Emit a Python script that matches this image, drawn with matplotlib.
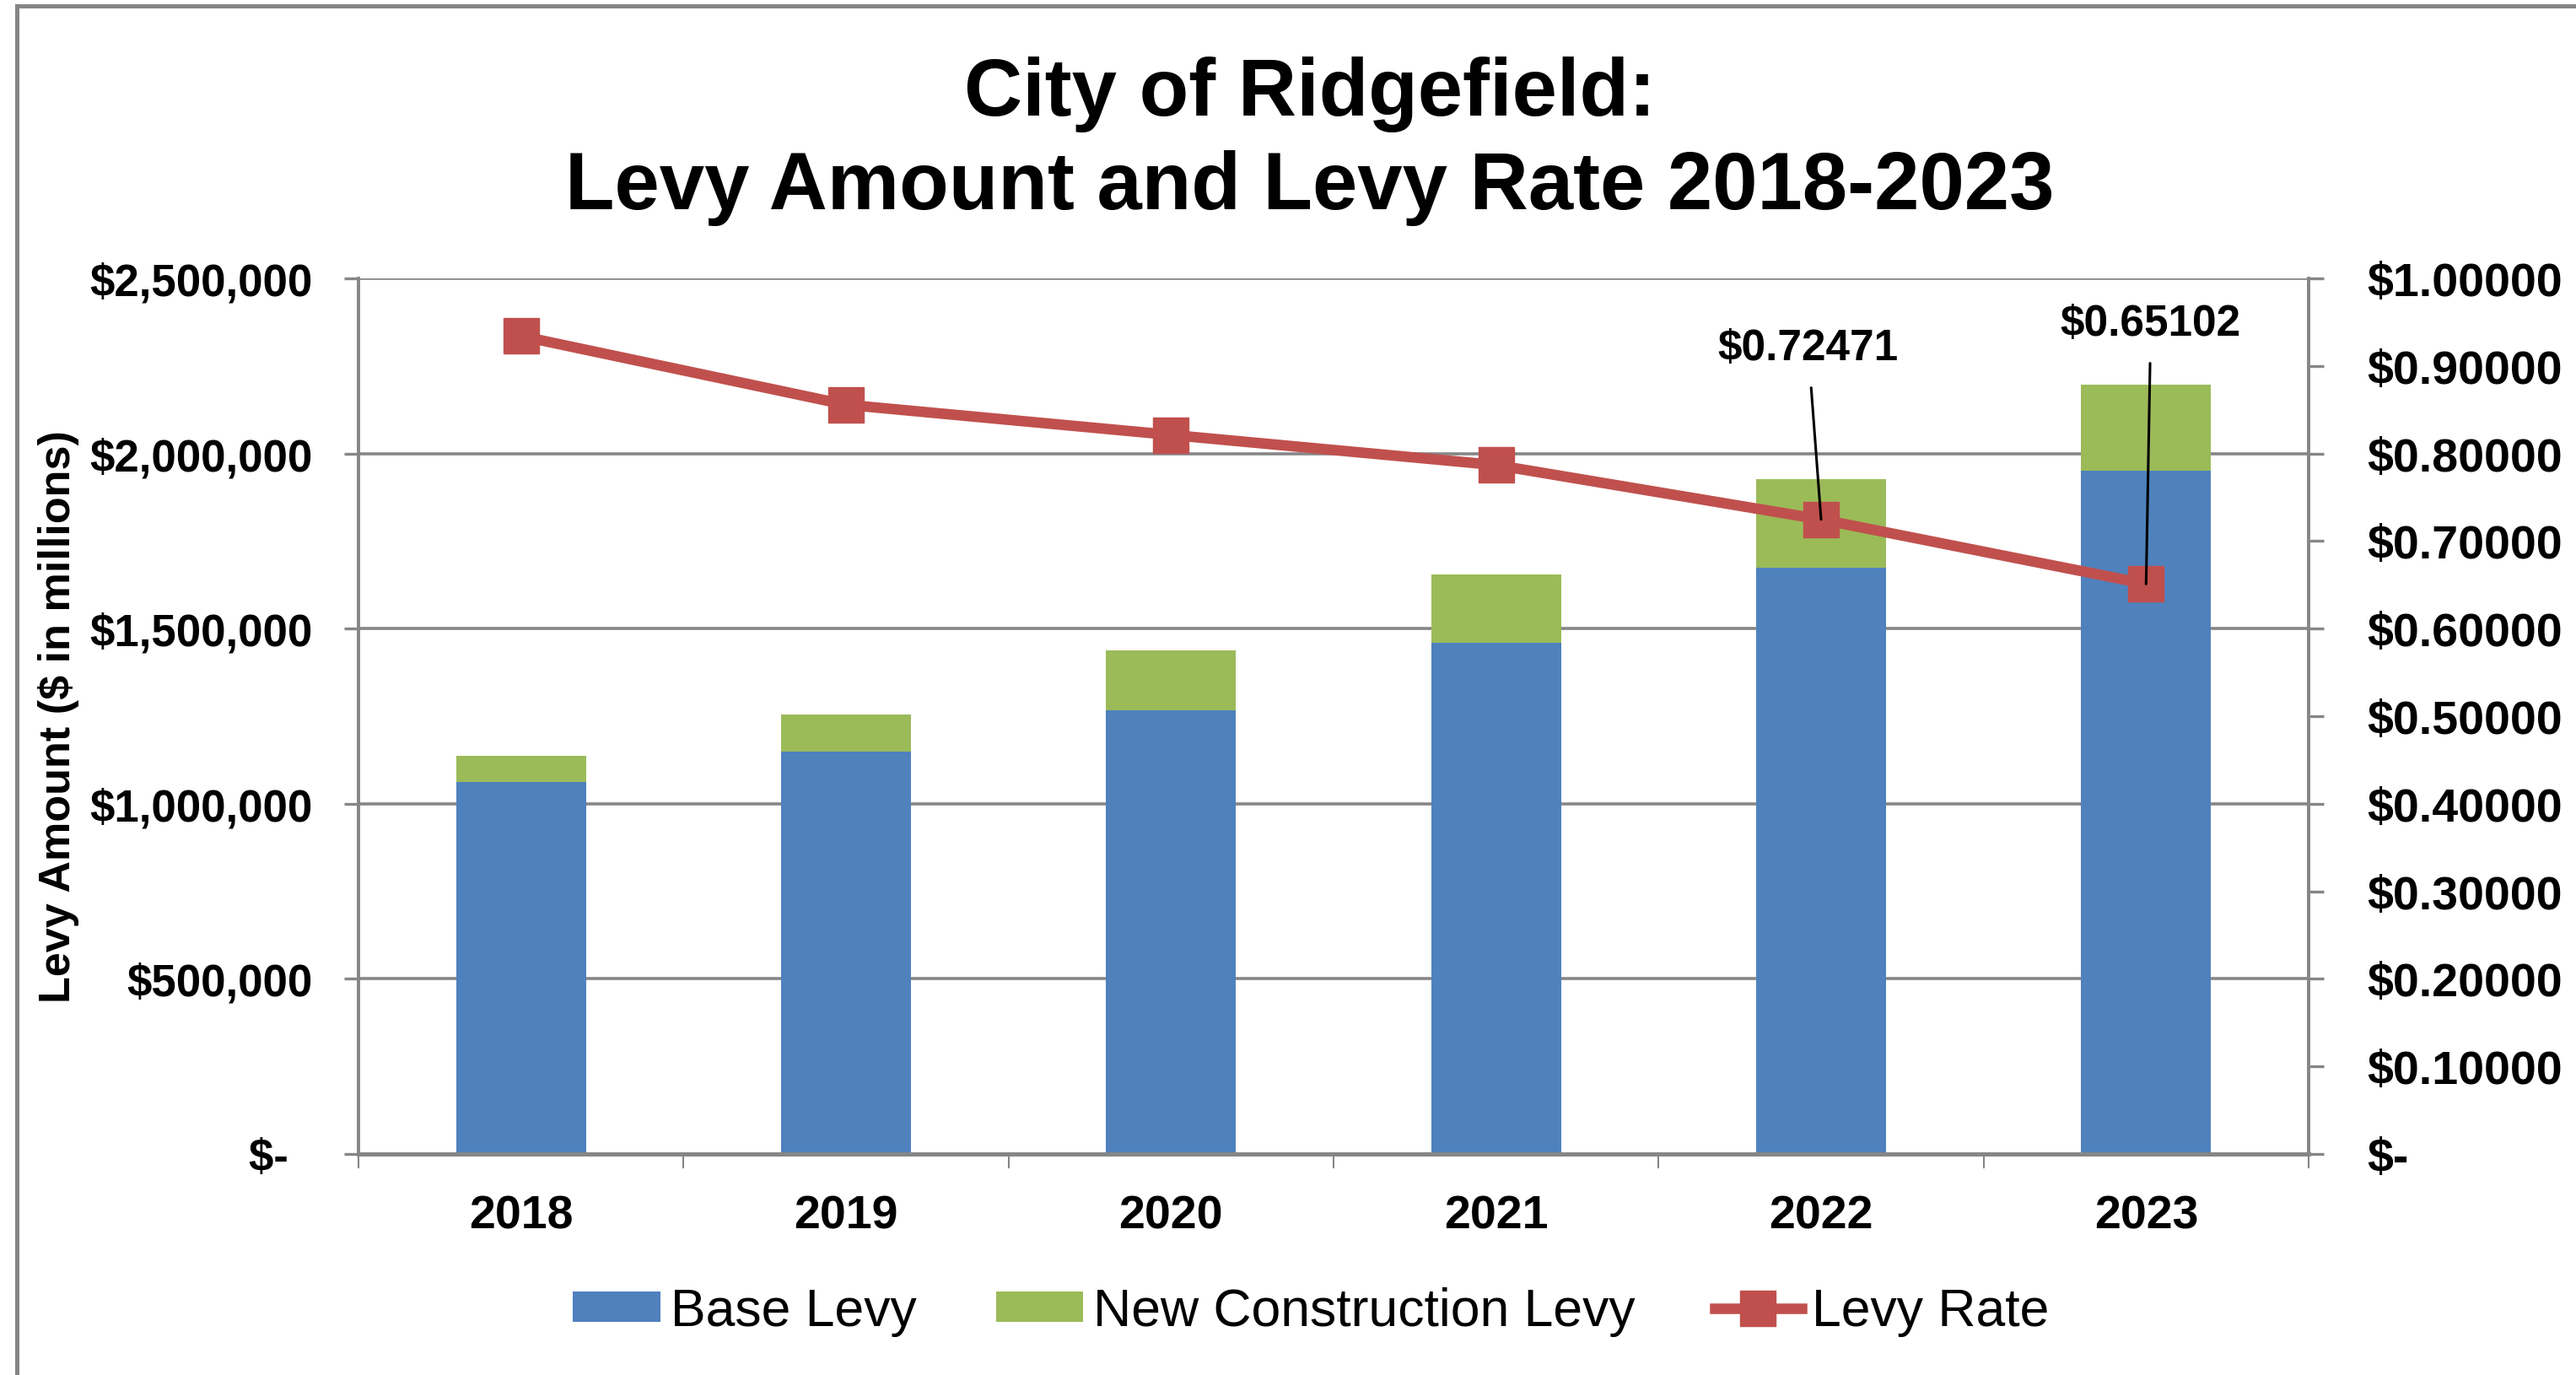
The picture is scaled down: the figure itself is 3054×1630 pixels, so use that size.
import numpy as np
import matplotlib
matplotlib.use('Agg')
import matplotlib.pyplot as plt
from matplotlib.lines import Line2D
from matplotlib.ticker import FuncFormatter, MultipleLocator, FixedLocator

plt.rcParams['font.family'] = ['Liberation Sans', 'DejaVu Sans']

# data
years = ['2018', '2019', '2020', '2021', '2022', '2023']
base_levy = [1062000, 1149000, 1267000, 1459000, 1673000, 1951000]
new_construction = [74000, 105000, 172000, 196000, 253000, 245000]
levy_rate = [0.9341, 0.8557, 0.8212, 0.7868, 0.72471, 0.65102]
labelled = {4: '$0.72471', 5: '$0.65102'}

BLUE = '#4F81BD'
GREEN = '#9BBB59'
RED = '#C0504D'
GRAY = '#868686'

W, H = 3054, 1631
fig = plt.figure(figsize=(W / 100, H / 100), dpi=100)
fig.patch.set_facecolor('white')

# outer chart border (left and top visible in the crop)
fig.add_artist(Line2D([20 / W, 20 / W], [0, 1 - 8 / H], color=GRAY, lw=3.6))
fig.add_artist(Line2D([20 / W, 1], [1 - 8 / H, 1 - 8 / H], color=GRAY, lw=3.6))

left, right, top, bottom = 425, 2737, 331, 1369
ax = fig.add_axes([left / W, 1 - bottom / H, (right - left) / W, (bottom - top) / H])
ax2 = ax.twinx()

x = np.arange(len(years))
ax.bar(x, base_levy, width=0.4, color=BLUE, label='Base Levy', zorder=2)
ax.bar(x, new_construction, width=0.4, bottom=base_levy, color=GREEN,
       label='New Construction Levy', zorder=2)

ax2.plot(x, levy_rate, color=RED, lw=9, marker='s', markersize=30,
         label='Levy Rate', zorder=3)

ax.set_xlim(-0.5, len(years) - 0.5)
ax.set_ylim(0, 2500000)
ax2.set_ylim(0, 1.0)

# left axis
ax.yaxis.set_major_locator(MultipleLocator(500000))
ax.yaxis.set_major_formatter(FuncFormatter(
    lambda v, p: '$-  ' if v == 0 else '${:,.0f}'.format(v)))
ax.grid(axis='y', color=GRAY, lw=2.6, zorder=0)
ax.set_axisbelow(True)
ax.tick_params(axis='y', direction='out', length=12, width=2.4, color=GRAY,
               pad=27, labelsize=38)
for t in ax.get_yticklabels():
    t.set_fontweight('bold')

ax.set_ylabel('Levy Amount ($ in millions)', fontsize=37.5, fontweight='bold')
ax.yaxis.set_label_coords(-0.143, 0.5)

# right axis
ax2.yaxis.set_major_locator(MultipleLocator(0.1))
ax2.yaxis.set_major_formatter(FuncFormatter(
    lambda v, p: '$-' if abs(v) < 1e-9 else '${:.5f}'.format(v)))
ax2.tick_params(axis='y', direction='out', length=13, width=2.4, color=GRAY,
                pad=37, labelsize=40)
for t in ax2.get_yticklabels():
    t.set_fontweight('bold')

# x axis: labels under bars, tick marks between categories
ax.set_xticks(x)
ax.set_xticklabels(years, fontsize=40, fontweight='bold')
ax.tick_params(axis='x', which='major', length=0, pad=34)
ax.xaxis.set_minor_locator(FixedLocator(np.arange(-0.5, len(years), 1.0)))
ax.tick_params(axis='x', which='minor', direction='out', length=12, width=1.5,
               color=GRAY)

for a in (ax, ax2):
    a.spines['top'].set_visible(False)
    a.spines['left'].set_color(GRAY)
    a.spines['right'].set_color(GRAY)
    a.spines['bottom'].set_color(GRAY)
    a.spines['left'].set_linewidth(2.6)
    a.spines['right'].set_linewidth(2.6)
    a.spines['bottom'].set_linewidth(3.6)

# callout labels for the last two rates
offsets = {4: (-11, 146), 5: (4, 222)}
for i, txt in labelled.items():
    ax2.annotate(txt, xy=(x[i], levy_rate[i]), xytext=offsets[i],
                 textcoords='offset points', ha='center', va='center',
                 fontsize=37, fontweight='bold',
                 arrowprops=dict(arrowstyle='-', color='black', lw=2.2,
                                 shrinkA=14, shrinkB=0),
                 zorder=5)

# title
fig.text(1553 / W, 1 - 137 / H, 'City of Ridgefield:', ha='center',
         va='baseline', fontsize=69, fontweight='bold')
fig.text(1553 / W, 1 - 248 / H, 'Levy Amount and Levy Rate 2018-2023',
         ha='center', va='baseline', fontsize=69, fontweight='bold')

# legend
h1, l1 = ax.get_legend_handles_labels()
h2, l2 = ax2.get_legend_handles_labels()
fig.legend(h1 + h2, l1 + l2, loc='center', bbox_to_anchor=(0.509, 0.046),
           ncol=3, frameon=False, fontsize=45, handlelength=1.65,
           handleheight=0.5, handletextpad=0.2, columnspacing=1.5)

fig.savefig('out.png', dpi=100)
